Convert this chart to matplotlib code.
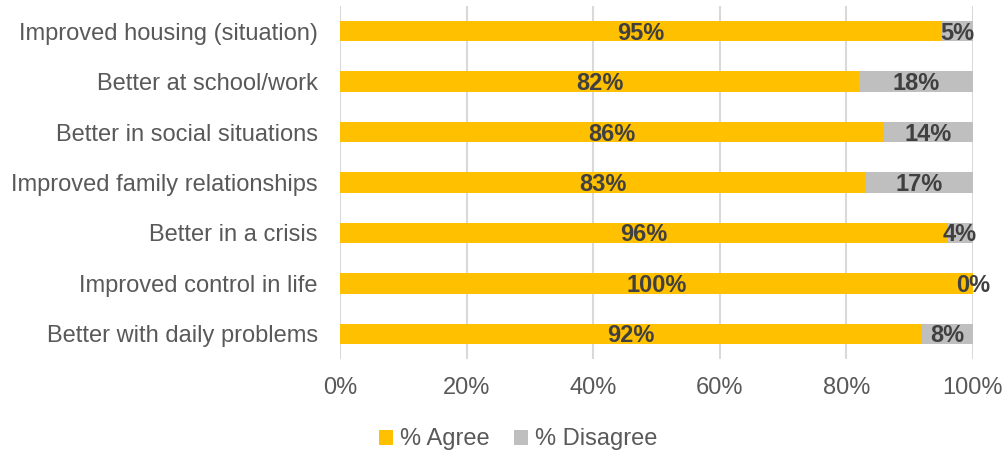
import matplotlib.pyplot as plt
import numpy as np

plt.rcParams['font.family'] = ['Liberation Sans', 'DejaVu Sans']

# survey outcomes, top row first
categories = ["Improved housing (situation)", "Better at school/work",
              "Better in social situations", "Improved family relationships",
              "Better in a crisis", "Improved control in life",
              "Better with daily problems"]
agree = [95, 82, 86, 83, 96, 100, 92]
disagree = [5, 18, 14, 17, 4, 0, 8]

yellow = "#FFC000"
grey = "#BFBFBF"
txt = "#595959"
lab = "#404040"
fs = 17

fig = plt.figure(figsize=(10.06, 4.54), dpi=100)
ax = fig.add_axes([0.338, 0.209, 0.629, 0.778])

y = np.arange(len(categories))
a = np.array(agree) / 100
d = np.array(disagree) / 100
b1 = ax.barh(y, a, height=0.4, color=yellow, label="% Agree", zorder=2)
b2 = ax.barh(y, d, left=a, height=0.4, color=grey, label="% Disagree", zorder=2)

for i in range(len(y)):
    ax.text(a[i] / 2, y[i] + 0.04, f"{agree[i]}%", ha="center", va="center",
            fontsize=fs, fontweight="bold", color=lab, zorder=3)
    ax.text(a[i] + d[i] / 2, y[i] + 0.04, f"{disagree[i]}%", ha="center",
            va="center", fontsize=fs, fontweight="bold", color=lab, zorder=3)

ax.set_ylim(len(y) - 0.5, -0.5)
ax.set_xlim(0, 1)
ax.set_yticks(y)
ax.set_yticklabels(categories, fontsize=fs, color=txt)
ax.set_xticks(np.arange(0, 1.01, 0.2))
ax.set_xticklabels([f"{int(v*100)}%" for v in np.arange(0, 1.01, 0.2)],
                   fontsize=fs, color=txt)
ax.tick_params(length=0)
ax.tick_params(axis="x", pad=13)
ax.tick_params(axis="y", pad=16)
ax.grid(axis="x", color="#D9D9D9", linewidth=1.5, zorder=0)
for s in ax.spines.values():
    s.set_visible(False)

fig.legend(handles=[b1, b2], loc="center", bbox_to_anchor=(0.515, 0.032),
           ncol=2, frameon=False, fontsize=fs, labelcolor=txt,
           handlelength=0.6, handleheight=0.6, handletextpad=0.3,
           columnspacing=1.0)

fig.savefig("out.png", dpi=100)
